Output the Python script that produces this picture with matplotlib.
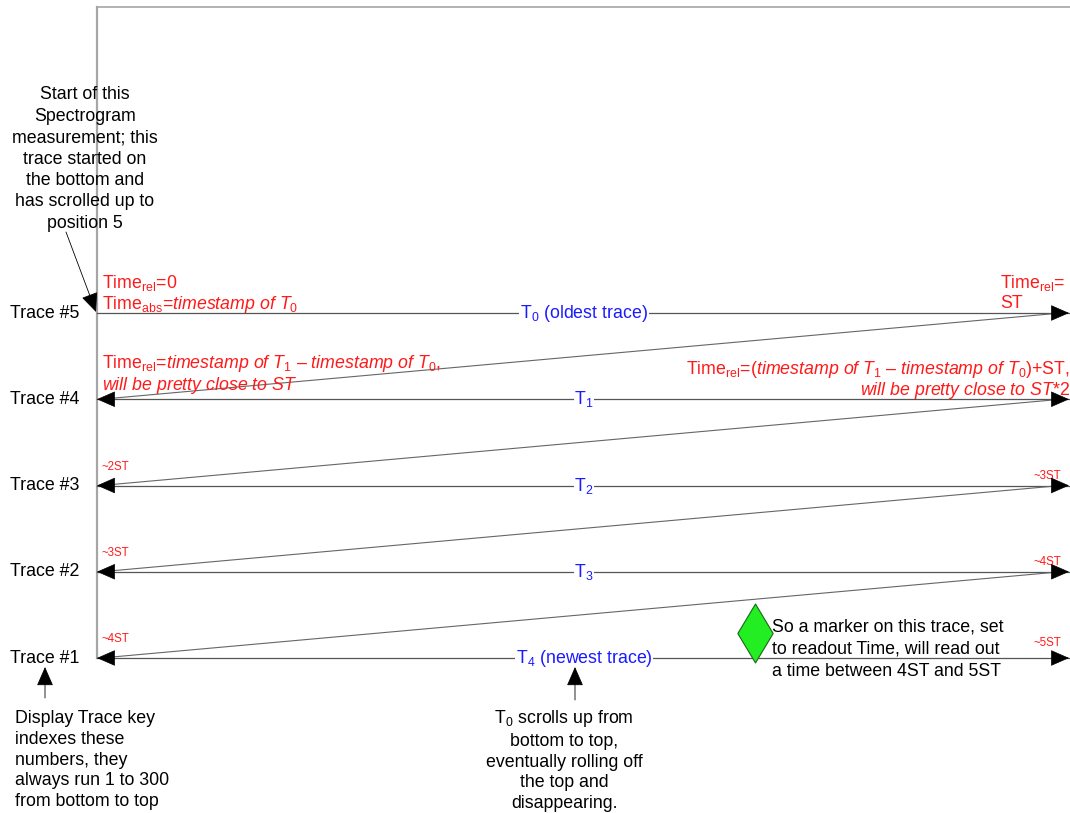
import matplotlib.pyplot as plt

plt.rcParams['font.family'] = ['Liberation Sans', 'DejaVu Sans']
plt.rcParams['mathtext.fontset'] = 'custom'
plt.rcParams['mathtext.rm'] = 'Liberation Sans'
plt.rcParams['mathtext.it'] = 'Liberation Sans:italic'
plt.rcParams['mathtext.bf'] = 'Liberation Sans:bold'

# diagram content
trace_names = ['Trace #5', 'Trace #4', 'Trace #3', 'Trace #2', 'Trace #1']
trace_titles = ['T$_0$ (oldest trace)', 'T$_1$', 'T$_2$', 'T$_3$', 'T$_4$ (newest trace)']
left_small = ['', '', '~2ST', '~3ST', '~4ST']
right_small = ['', '', '~3ST', '~4ST', '~5ST']

note_start = ('Start of this\nSpectrogram\nmeasurement; this\ntrace started on\n'
              'the bottom and\nhas scrolled up to\nposition 5')
note_key = ('Display Trace key\nindexes these\nnumbers, they\n'
            'always run 1 to 300\nfrom bottom to top')
note_scroll = ('T$_0$ scrolls up from\nbottom to top,\neventually rolling off\n'
               'the top and\ndisappearing.')
note_marker = ('So a marker on this trace, set\nto readout Time, will read out\n'
               'a time between 4ST and 5ST')

RED = '#ff1a1a'
BLUE = '#1a1aff'
FS = 12.8
ARROW = '-|>,head_length=0.8,head_width=0.35'

fig = plt.figure(figsize=(10.7, 8.13), dpi=100)
ax = fig.add_axes([0, 0, 1, 1])
ax.set_xlim(0, 1070)
ax.set_ylim(813, 0)
ax.axis('off')

x_left, x_right = 97, 1069
row_y = [313 + 86.25 * i for i in range(len(trace_names))]

# display frame
ax.plot([x_left, x_left], [7, row_y[-1]], color='#a6a6a6', lw=1.6, zorder=1)
ax.plot([x_left, 1070], [7, 7], color='#a6a6a6', lw=1.2, zorder=1)


def head(tip, direction):
    # small filled arrow head
    ax.annotate('', xy=tip, xytext=(tip[0] - direction * 14, tip[1]),
                arrowprops=dict(arrowstyle=ARROW, color='black', lw=0.5, mutation_scale=15,
                                shrinkA=0, shrinkB=0),
                annotation_clip=False, zorder=4)


for i, (name, title) in enumerate(zip(trace_names, trace_titles)):
    y = row_y[i]
    ax.plot([x_left, x_right], [y, y], color='#555555', lw=0.9, zorder=2)
    head((x_right, y), 1)
    if i > 0:
        head((x_left, y), -1)
        # retrace line back up to previous row's right end
        ax.plot([x_left + 4, x_right - 8], [y, row_y[i - 1]], color='#666666', lw=0.8, zorder=2)
    ax.text(10, y, name, fontsize=FS, ha='left', va='center', color='black')
    ax.text(584, y, title, fontsize=FS, ha='center', va='center', color=BLUE,
            bbox=dict(facecolor='white', edgecolor='none', pad=0.5), zorder=3)
    if left_small[i]:
        ax.text(101, y - 19, left_small[i], fontsize=8.3, color=RED, ha='left', va='center')
    if right_small[i]:
        ax.text(1061, y - 10 - (5 if i == 4 else 0), right_small[i], fontsize=8.3, color=RED,
                ha='right', va='center')

# red timing text
ax.text(102, 283, r'Time$_{\mathrm{rel}}$=0', fontsize=FS, color=RED, va='center')
ax.text(102, 304, r'Time$_{\mathrm{abs}}$=$\mathit{timestamp\ of\ T_0}$', fontsize=FS,
        color=RED, va='center')
ax.text(1000, 283, r'Time$_{\mathrm{rel}}$=', fontsize=FS, color=RED, va='center')
ax.text(1000, 303, 'ST', fontsize=FS, color=RED, va='center')
ax.text(102, 363, r'Time$_{\mathrm{rel}}$=$\mathit{timestamp\ of\ T_1\ –\ timestamp\ of\ T_0,}$',
        fontsize=FS, color=RED, va='center')
ax.text(102, 385, r'$\mathit{will\ be\ pretty\ close\ to\ ST}$', fontsize=FS, color=RED, va='center')
ax.text(1070, 369, r'Time$_{\mathrm{rel}}$=($\mathit{timestamp\ of\ T_1\ –\ timestamp\ of\ T_0)}$+ST,',
        fontsize=FS, color=RED, va='center', ha='right')
ax.text(1070, 390, r'$\mathit{will\ be\ pretty\ close\ to\ ST}$*2', fontsize=FS, color=RED,
        va='center', ha='right')

# marker
ax.scatter([755], [633], marker='d', s=900, facecolor='#22ee22', edgecolor='#1a661a',
           linewidth=0.8, zorder=5)
ax.text(772, 649, note_marker, fontsize=FS, ha='left', va='center', linespacing=1.4)

# callouts
ax.text(85, 159, note_start, fontsize=FS, ha='center', va='center', linespacing=1.34)
ax.annotate('', xy=(96, 312), xytext=(66, 232),
            arrowprops=dict(arrowstyle=ARROW, color='black', lw=0.6, mutation_scale=15,
                            shrinkA=0, shrinkB=0))
ax.text(15, 760, note_key, fontsize=FS, ha='left', va='center', linespacing=1.3)
ax.annotate('', xy=(45, 667), xytext=(45, 698),
            arrowprops=dict(arrowstyle=ARROW, color='black', lw=0.6, mutation_scale=15,
                            shrinkA=0, shrinkB=0))
ax.text(564, 760, note_scroll, fontsize=FS, ha='center', va='center', linespacing=1.3)
ax.annotate('', xy=(575, 667), xytext=(575, 700),
            arrowprops=dict(arrowstyle=ARROW, color='black', lw=0.6, mutation_scale=15,
                            shrinkA=0, shrinkB=0))

fig.savefig('out.png', dpi=100)
